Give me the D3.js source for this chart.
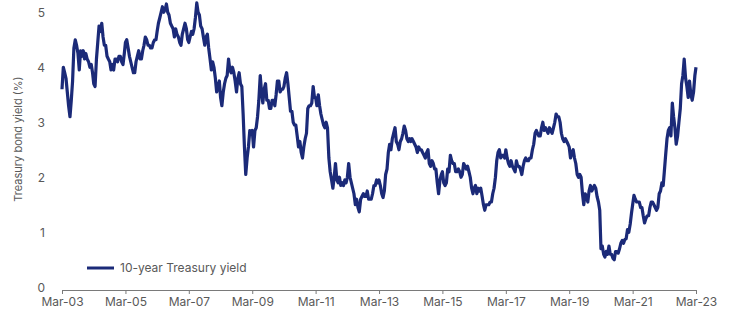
<!DOCTYPE html>
<html>
<head>
<meta charset="utf-8">
<script src="https://cdn.jsdelivr.net/npm/d3@7"></script>
<style>
  body { margin: 0; background: #fff; }
  text { font-family: Inter, "Noto Sans", sans-serif; fill: #595959; }
  .axis path, .axis line { stroke: #7a7a7a; }
</style>
</head>
<body>
<div id="svganchor"></div>
<script>
// 10-year US Treasury yield (%), two readings per month (1st and 16th), from Mar 2003
let yields = [
    // 2003 (Mar-Dec)
    3.65, 4.05, 3.95, 3.85, 3.6, 3.35, 3.15, 3.45, 3.8, 4.4, 4.55, 4.45, 4.3, 4.0, 4.35, 4.25, 4.35, 4.2, 4.3, 4.2,
    // 2004
    4.15, 4.05, 4.1, 3.95, 3.75, 3.7, 4.2, 4.5, 4.8, 4.7, 4.85, 4.6, 4.45, 4.45, 4.25, 4.2, 4.15, 4.0, 4.1, 4.0, 4.2, 4.2, 4.15, 4.25,
    // 2005
    4.25, 4.15, 4.1, 4.3, 4.5, 4.55, 4.4, 4.25, 4.15, 4.05, 3.95, 3.95, 4.15, 4.25, 4.35, 4.2, 4.2, 4.35, 4.45, 4.6, 4.55, 4.45, 4.45, 4.4,
    // 2006
    4.4, 4.5, 4.55, 4.55, 4.7, 4.85, 4.95, 5.05, 5.15, 5.05, 5.1, 5.2, 5.05, 5.0, 4.85, 4.8, 4.75, 4.6, 4.75, 4.65, 4.6, 4.5, 4.45, 4.65,
    // 2007
    4.75, 4.85, 4.75, 4.55, 4.5, 4.6, 4.7, 4.65, 4.75, 4.95, 5.22, 5.05, 5.0, 4.8, 4.75, 4.6, 4.45, 4.6, 4.65, 4.4, 4.2, 4.0, 4.15, 4.05,
    // 2008
    3.85, 3.6, 3.7, 3.8, 3.5, 3.35, 3.6, 3.75, 3.85, 3.9, 4.2, 4.0, 3.95, 4.05, 3.95, 3.8, 3.6, 3.85, 3.95, 3.75, 3.7, 3.2, 2.6, 2.1,
    // 2009
    2.4, 2.6, 2.9, 2.85, 2.9, 2.6, 2.9, 2.95, 3.15, 3.45, 3.9, 3.6, 3.4, 3.65, 3.75, 3.45, 3.45, 3.3, 3.3, 3.45, 3.45, 3.35, 3.55, 3.8,
    // 2010
    3.8, 3.6, 3.65, 3.65, 3.7, 3.85, 3.95, 3.75, 3.5, 3.25, 3.25, 3.05, 3.0, 3.0, 2.8, 2.6, 2.7, 2.5, 2.4, 2.6, 2.75, 2.85, 3.3, 3.35,
    // 2011
    3.35, 3.4, 3.7, 3.5, 3.5, 3.35, 3.55, 3.35, 3.2, 3.1, 3.0, 2.95, 3.05, 2.95, 2.4, 2.15, 2.0, 1.85, 2.05, 2.3, 2.0, 1.95, 2.05, 1.9,
    // 2012
    1.95, 1.9, 2.0, 1.95, 2.05, 2.3, 2.05, 1.95, 1.85, 1.75, 1.55, 1.65, 1.5, 1.42, 1.65, 1.7, 1.75, 1.7, 1.7, 1.8, 1.65, 1.65, 1.65, 1.75,
    // 2013
    1.9, 1.9, 2.0, 1.95, 2.0, 1.9, 1.75, 1.68, 1.8, 2.1, 2.2, 2.5, 2.65, 2.55, 2.75, 2.85, 2.95, 2.7, 2.65, 2.55, 2.7, 2.75, 2.85, 2.98,
    // 2014
    2.9, 2.75, 2.7, 2.75, 2.7, 2.75, 2.7, 2.65, 2.6, 2.5, 2.6, 2.55, 2.55, 2.5, 2.45, 2.4, 2.5, 2.55, 2.3, 2.25, 2.35, 2.3, 2.2, 2.2,
    // 2015
    1.95, 1.75, 2.0, 2.1, 2.15, 1.95, 1.9, 1.95, 2.2, 2.15, 2.45, 2.35, 2.3, 2.3, 2.15, 2.15, 2.2, 2.15, 2.05, 2.1, 2.3, 2.25, 2.2, 2.25,
    // 2016
    2.15, 2.05, 1.85, 1.75, 1.85, 1.9, 1.75, 1.85, 1.8, 1.85, 1.7, 1.55, 1.45, 1.55, 1.55, 1.55, 1.6, 1.6, 1.75, 1.85, 2.05, 2.35, 2.5, 2.55,
    // 2017
    2.4, 2.45, 2.45, 2.4, 2.55, 2.4, 2.3, 2.25, 2.35, 2.25, 2.2, 2.15, 2.35, 2.25, 2.25, 2.2, 2.1, 2.25, 2.35, 2.4, 2.35, 2.35, 2.4, 2.4,
    // 2018
    2.55, 2.65, 2.85, 2.9, 2.85, 2.8, 2.8, 2.95, 3.05, 2.9, 2.95, 2.9, 2.85, 2.95, 2.9, 2.85, 2.95, 3.05, 3.2, 3.15, 3.15, 3.05, 2.85, 2.75,
    // 2019
    2.7, 2.75, 2.7, 2.65, 2.6, 2.4, 2.5, 2.55, 2.4, 2.3, 2.1, 2.05, 2.1, 2.05, 1.75, 1.55, 1.75, 1.7, 1.6, 1.8, 1.9, 1.8, 1.85, 1.9,
    // 2020
    1.85, 1.7, 1.6, 1.45, 0.75, 0.8, 0.65, 0.6, 0.7, 0.65, 0.8, 0.65, 0.65, 0.58, 0.55, 0.7, 0.7, 0.67, 0.75, 0.85, 0.9, 0.85, 0.92, 0.93,
    // 2021
    1.1, 1.05, 1.2, 1.4, 1.55, 1.72, 1.65, 1.6, 1.6, 1.6, 1.5, 1.5, 1.35, 1.22, 1.3, 1.35, 1.35, 1.5, 1.6, 1.6, 1.55, 1.5, 1.45, 1.5,
    // 2022
    1.75, 1.8, 1.95, 1.9, 2.15, 2.45, 2.75, 2.9, 2.95, 2.8, 3.4, 3.15, 2.95, 2.65, 2.8, 3.05, 3.3, 3.75, 3.9, 4.2, 3.85, 3.7, 3.5, 3.8,
    // 2023 (Jan-Mar)
    3.55, 3.45, 3.6, 3.9, 4.05
];

let tickYears = [2003, 2005, 2007, 2009, 2011, 2013, 2015, 2017, 2019, 2021, 2023];
let yTicks = [0, 1, 2, 3, 4, 5];

let seriesName = "10-year Treasury yield";
let yTitle = "Treasury bond yield (%)";

let width = 734, height = 316;
let margin = ({top: 15, right: 38, bottom: 26, left: 62});

let data = yields.map(function(v, i) {
    return {date: new Date(2003, 2 + Math.floor(i / 2), i % 2 ? 16 : 1), value: v};
});

let xScale = d3.scaleTime()
    .domain([new Date(2003, 2, 1), new Date(2023, 2, 1)])
    .range([margin.left, width - margin.right]);

let yScale = d3.scaleLinear()
    .domain([0, 5])
    .range([height - margin.bottom, margin.top]);

let xAxis = d3.axisBottom(xScale)
    .tickValues(tickYears.map(function(y) { return new Date(y, 2, 1); }))
    .tickFormat(d3.timeFormat("%b-%y"))
    .tickSizeOuter(0)
    .tickSizeInner(4)
    .tickPadding(3);

let svg = d3.select("#svganchor")
    .append("svg")
    .attr("width", width)
    .attr("height", height);

let gX = svg.append("g")
    .attr("class", "x axis")
    .attr("transform", "translate(0," + (height - margin.bottom) + ")")
    .call(xAxis);

gX.selectAll("text")
    .style("font-size", "12px")
    .attr("fill", "#595959");

svg.append("g")
    .selectAll("text")
    .data(yTicks)
    .enter()
    .append("text")
    .attr("x", 45)
    .attr("y", function(d) { return yScale(d) - 2; })
    .attr("dy", "0.32em")
    .attr("text-anchor", "end")
    .style("font-size", "12px")
    .text(function(d) { return d; });

svg.append("text")
    .attr("text-anchor", "middle")
    .attr("transform", "translate(22," + 139 + ") rotate(-90)")
    .style("font-size", "11px")
    .text(yTitle);

let line = d3.line()
    .x(function(d) { return xScale(d.date); })
    .y(function(d) { return yScale(d.value); });

svg.append("path")
    .datum(data)
    .attr("fill", "none")
    .attr("stroke", "#1b2a78")
    .attr("stroke-width", 3.2)
    .attr("stroke-linejoin", "round")
    .attr("d", line);

// legend
svg.append("line")
    .attr("x1", 87)
    .attr("x2", 114)
    .attr("y1", 268)
    .attr("y2", 268)
    .attr("stroke", "#1b2a78")
    .attr("stroke-width", 3);

svg.append("text")
    .attr("x", 120)
    .attr("y", 272)
    .style("font-size", "12px")
    .text(seriesName);
</script>
</body>
</html>
